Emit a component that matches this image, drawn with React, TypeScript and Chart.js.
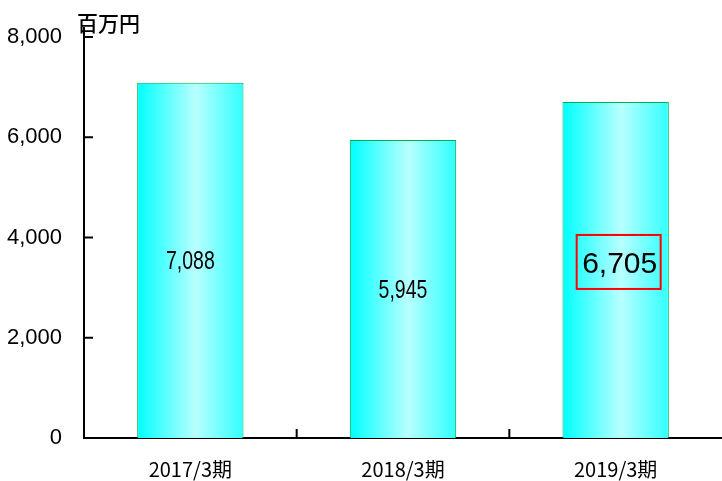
import React, { useEffect, useRef } from "react";
import { Chart, registerables } from "chart.js";

Chart.register(...registerables);

const categories = ["2017/3期", "2018/3期", "2019/3期"];
const values = [7088, 5945, 6705];
const valueLabels = ["7,088", "5,945", "6,705"];
const highlightIndex = 2;
const unitLabel = "百万円";
const yMin = 0;
const yMax = 8000;
const yStep = 2000;

const NUM_FONT = "'Liberation Sans', Arial, sans-serif";
const CJK_FONT = "'Noto Sans CJK JP', sans-serif";

const extrasPlugin = {
  id: "extras",
  afterDraw(chart: any) {
    const ctx = chart.ctx;
    const xs = chart.scales.x;
    const ys = chart.scales.y;
    const area = chart.chartArea;
    ctx.save();
    ctx.strokeStyle = "#000";
    ctx.lineWidth = 2;
    ys.ticks.forEach((t: any, i: number) => {
      if (t.value === 0) return;
      const py = ys.getPixelForTick(i);
      ctx.beginPath();
      ctx.moveTo(area.left, py);
      ctx.lineTo(area.left + 9, py);
      ctx.stroke();
    });
    ctx.beginPath();
    ctx.moveTo(area.left, area.top);
    ctx.lineTo(area.left, area.top - 10);
    ctx.stroke();
    const n = categories.length;
    const cw = (xs.right - xs.left) / n;
    for (let i = 1; i < n; i++) {
      const px = xs.left + cw * i;
      ctx.beginPath();
      ctx.moveTo(px, area.bottom);
      ctx.lineTo(px, area.bottom - 9);
      ctx.stroke();
    }
    ctx.fillStyle = "#000";
    ctx.font = `500 21px ${CJK_FONT}`;
    ctx.textAlign = "left";
    ctx.textBaseline = "middle";
    ctx.fillText(unitLabel, area.left - 7, 23);
    const meta = chart.getDatasetMeta(0);
    meta.data.forEach((bar: any, i: number) => {
      const cx = bar.x;
      const cy = (bar.y + bar.base) / 2;
      ctx.textAlign = "center";
      ctx.textBaseline = "middle";
      ctx.fillStyle = "#000";
      if (i === highlightIndex) {
        ctx.font = `30px ${NUM_FONT}`;
        ctx.fillText(valueLabels[i], cx + 4, cy - 5);
        ctx.strokeStyle = "#FF0000";
        ctx.lineWidth = 2;
        ctx.strokeRect(cx - 39, cy - 35, 84, 54);
      } else {
        ctx.save();
        ctx.translate(cx, cy + 2);
        ctx.scale(0.78, 1);
        ctx.font = `25px ${NUM_FONT}`;
        ctx.fillText(valueLabels[i], 0, 0);
        ctx.restore();
      }
    });
    ctx.restore();
  },
};

export default function App() {
  const ref = useRef<HTMLCanvasElement>(null);
  useEffect(() => {
    document.body.style.margin = "0";
    const canvas = ref.current!;
    const chart = new Chart(canvas, {
      type: "bar",
      data: {
        labels: categories,
        datasets: [
          {
            data: values,
            backgroundColor: (c: any) => {
              const ch = c.chart;
              const xs = ch.scales?.x;
              if (!xs || c.dataIndex === undefined) return "#00FFFF";
              const cw = (xs.right - xs.left) / categories.length;
              const center = xs.getPixelForValue(c.dataIndex);
              const half = (cw * 0.5) / 2;
              if (!Number.isFinite(center) || !Number.isFinite(half) || half <= 0) return "#00FFFF";
              const g = ch.ctx.createLinearGradient(center - half, 0, center + half, 0);
              g.addColorStop(0, "#00FFFF");
              g.addColorStop(0.55, "#B8FFFF");
              g.addColorStop(1, "#30FFFF");
              return g;
            },
            borderColor: "#00B050",
            borderWidth: 1,
            barPercentage: 0.5,
            categoryPercentage: 1,
          },
        ],
      },
      options: {
        animation: false,
        responsive: false,
        devicePixelRatio: 1,
        layout: { padding: { top: 37, right: 0, left: 0, bottom: 0 } },
        plugins: { legend: { display: false }, tooltip: { enabled: false } },
        scales: {
          x: {
            grid: { display: false, drawTicks: false },
            border: { display: true, color: "#000", width: 2 },
            ticks: { color: "#000", padding: 19, font: { family: CJK_FONT, size: 20 } },
            afterFit: (s: any) => {
              s.height = 43;
            },
          },
          y: {
            min: yMin,
            max: yMax,
            grid: { display: false, drawTicks: false },
            border: { display: true, color: "#000", width: 2 },
            ticks: {
              stepSize: yStep,
              color: "#000",
              padding: 22,
              font: { family: NUM_FONT, size: 22 },
              callback: (v: any) => Number(v).toLocaleString("en-US"),
            },
            afterFit: (s: any) => {
              s.width = 84;
            },
          },
        },
      },
      plugins: [extrasPlugin],
    });
    return () => chart.destroy();
  }, []);
  return (
    <div style={{ position: "absolute", left: 0, top: 0, width: 722, height: 481 }}>
      <canvas ref={ref} width={722} height={481} />
    </div>
  );
}
